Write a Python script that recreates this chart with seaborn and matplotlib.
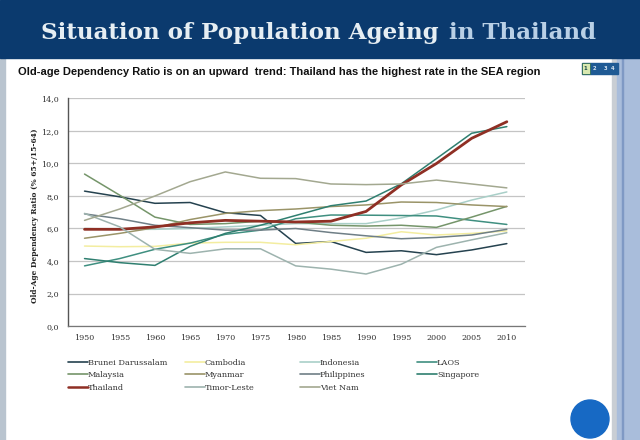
import pandas as pd
import matplotlib
matplotlib.use('Agg')
import matplotlib.pyplot as plt
from matplotlib.patches import Rectangle, Circle
import seaborn as sns

years = [1950, 1955, 1960, 1965, 1970, 1975, 1980, 1985, 1990, 1995, 2000, 2005, 2010]

brunei = [8.3, 7.95, 7.55, 7.6, 6.97, 6.8, 5.08, 5.2, 4.53, 4.63, 4.39, 4.68, 5.07]
cambodia = [4.92, 4.88, 4.9, 5.1, 5.15, 5.15, 5.0, 5.2, 5.4, 5.8, 5.6, 5.7, 5.85]
indonesia = [6.0, 5.95, 5.95, 6.0, 6.1, 6.2, 6.3, 6.3, 6.3, 6.65, 7.14, 7.75, 8.25]
laos = [3.7, 4.15, 4.72, 5.1, 5.64, 5.9, 6.6, 6.83, 6.82, 6.8, 6.77, 6.5, 6.25]
malaysia = [9.35, 8.05, 6.7, 6.25, 6.3, 6.45, 6.4, 6.2, 6.15, 6.2, 6.07, 6.7, 7.36]
myanmar = [5.4, 5.7, 6.05, 6.55, 6.93, 7.1, 7.2, 7.35, 7.45, 7.63, 7.6, 7.45, 7.35]
philippines = [6.9, 6.6, 6.2, 6.05, 5.9, 5.9, 6.0, 5.75, 5.55, 5.37, 5.45, 5.6, 5.95]
singapore = [4.15, 3.9, 3.73, 4.9, 5.7, 6.2, 6.8, 7.4, 7.69, 8.75, 10.3, 11.86, 12.27]
thailand = [5.95, 5.95, 6.1, 6.35, 6.5, 6.45, 6.4, 6.45, 7.05, 8.68, 10.0, 11.55, 12.57]
timor = [6.93, 6.1, 4.72, 4.47, 4.75, 4.75, 3.7, 3.5, 3.2, 3.8, 4.84, 5.3, 5.74]
viet_nam = [6.5, 7.2, 8.0, 8.88, 9.48, 9.09, 9.07, 8.74, 8.7, 8.74, 8.98, 8.74, 8.5]

series = {
    'Brunei Darussalam': brunei, 'Cambodia': cambodia, 'Indonesia': indonesia, 'LAOS': laos,
    'Malaysia': malaysia, 'Myanmar': myanmar, 'Philippines': philippines, 'Singapore': singapore,
    'Thailand': thailand, 'Timor-Leste': timor, 'Viet Nam': viet_nam,
}
palette = {
    'Brunei Darussalam': '#25424f', 'Cambodia': '#f3eda0', 'Indonesia': '#a9cfc8', 'LAOS': '#3f8f80',
    'Malaysia': '#75956a', 'Myanmar': '#9a9468', 'Philippines': '#6f7f86', 'Singapore': '#2f7f70',
    'Thailand': '#8f2f24', 'Timor-Leste': '#9db3ae', 'Viet Nam': '#a3a890',
}
widths = {name: 2.0 if name == 'Thailand' else 1.1 for name in series}

df = pd.DataFrame(series, index=years).rename_axis('year').reset_index()
df = df.melt(id_vars='year', var_name='country', value_name='ratio')

sns.set_style('white')
fig = plt.figure(figsize=(6.4, 4.4), dpi=100)

# slide background, in pixel coordinates
bg = fig.add_axes([0, 0, 1, 1], zorder=0)
bg.set_xlim(0, 640)
bg.set_ylim(440, 0)
bg.axis('off')
bg.add_patch(Rectangle((0, 0), 640, 440, color='#ffffff'))
bg.add_patch(Rectangle((0, 58), 5, 382, color='#b9c4cf'))
bg.add_patch(Rectangle((612, 58), 5, 382, color='#c9ced4'))
bg.add_patch(Rectangle((617, 58), 23, 382, color='#a9bddb'))
bg.add_patch(Rectangle((622, 58), 1, 382, color='#7f99c4'))
bg.add_patch(Rectangle((0, 0), 640, 58, color='#0b3a6e'))
bg.text(41, 39, 'Situation of Population Ageing', family='DejaVu Serif', weight='bold',
        fontsize=16.6, color='#e6eef3', va='baseline')
bg.text(449, 39, 'in Thailand', family='DejaVu Serif', weight='bold',
        fontsize=16.6, color='#b9d0e6', va='baseline')
bg.text(18, 72, 'Old-age Dependency Ratio is on an upward  trend: Thailand has the highest rate in the SEA region',
        family='Liberation Sans', weight='bold', fontsize=8.0, color='#111111', va='center')
bg.add_patch(Rectangle((582, 63), 36, 11, color='#1f5a94'))
bg.add_patch(Rectangle((582, 63), 8, 11, facecolor='#d8e8b0', edgecolor='#2d6b55', lw=0.6))
for x, label in zip([585.5, 594, 605, 613], ['1', '2', '3', '4']):
    bg.text(x, 68.5, label, fontsize=3.8, weight='bold', ha='center', va='center',
            color='#17484a' if label == '1' else '#d5e3f0')
bg.add_patch(Circle((590, 419), 19, color='#1769c4'))

ax = fig.add_axes([67.5 / 640, 1 - 326 / 440, 457.5 / 640, 227.5 / 440], zorder=1)
ax.patch.set_alpha(0)
sns.lineplot(data=df, x='year', y='ratio', hue='country', palette=palette, ax=ax,
             linewidth=1.1, legend=False, errorbar=None)
for line, name in zip(ax.get_lines(), series):
    line.set_linewidth(widths[name])

ax.set_xlim(1947.58, 2012.58)
ax.set_ylim(0, 14)
ax.set_xticks(years)
ax.set_yticks(range(0, 15, 2))
ax.set_yticklabels([f'{v},0' for v in range(0, 15, 2)])
ax.set_xlabel('')
ax.set_ylabel('Old-Age Dependency Ratio (% 65+/15-64)', family='DejaVu Serif', weight='bold',
              fontsize=5.4, color='#222222', labelpad=1.7, y=0.485)
ax.tick_params(axis='both', labelsize=5.8, length=0, colors='#333333', pad=6)
for tick in ax.get_xticklabels() + ax.get_yticklabels():
    tick.set_family('DejaVu Serif')
ax.grid(axis='y', color='#c4c4c4', lw=0.9)
ax.set_axisbelow(True)
sns.despine(ax=ax, top=True, right=True)
ax.spines['left'].set_color('#555555')
ax.spines['left'].set_linewidth(1.0)
ax.spines['bottom'].set_color('#777777')
ax.spines['bottom'].set_linewidth(0.9)

# legend reads row by row, one legend per column keeps the reference's column positions
names = list(series)
legend_x = [68, 185, 300, 417]
for c, x in enumerate(legend_x):
    col_names = names[c::4]
    handles = [plt.Line2D([], [], color=palette[n], lw=1.8 if n == 'Thailand' else 1.2) for n in col_names]
    leg = fig.legend(handles, col_names, loc='upper left', bbox_to_anchor=(x / 640, 1 - 358.5 / 440),
                     frameon=False, handlelength=2.4, handletextpad=0.05, labelspacing=0.58,
                     borderaxespad=0, borderpad=0, prop={'family': 'DejaVu Serif', 'size': 5.85})
    for text in leg.get_texts():
        text.set_color('#333333')

fig.savefig('out.png', dpi=100)
